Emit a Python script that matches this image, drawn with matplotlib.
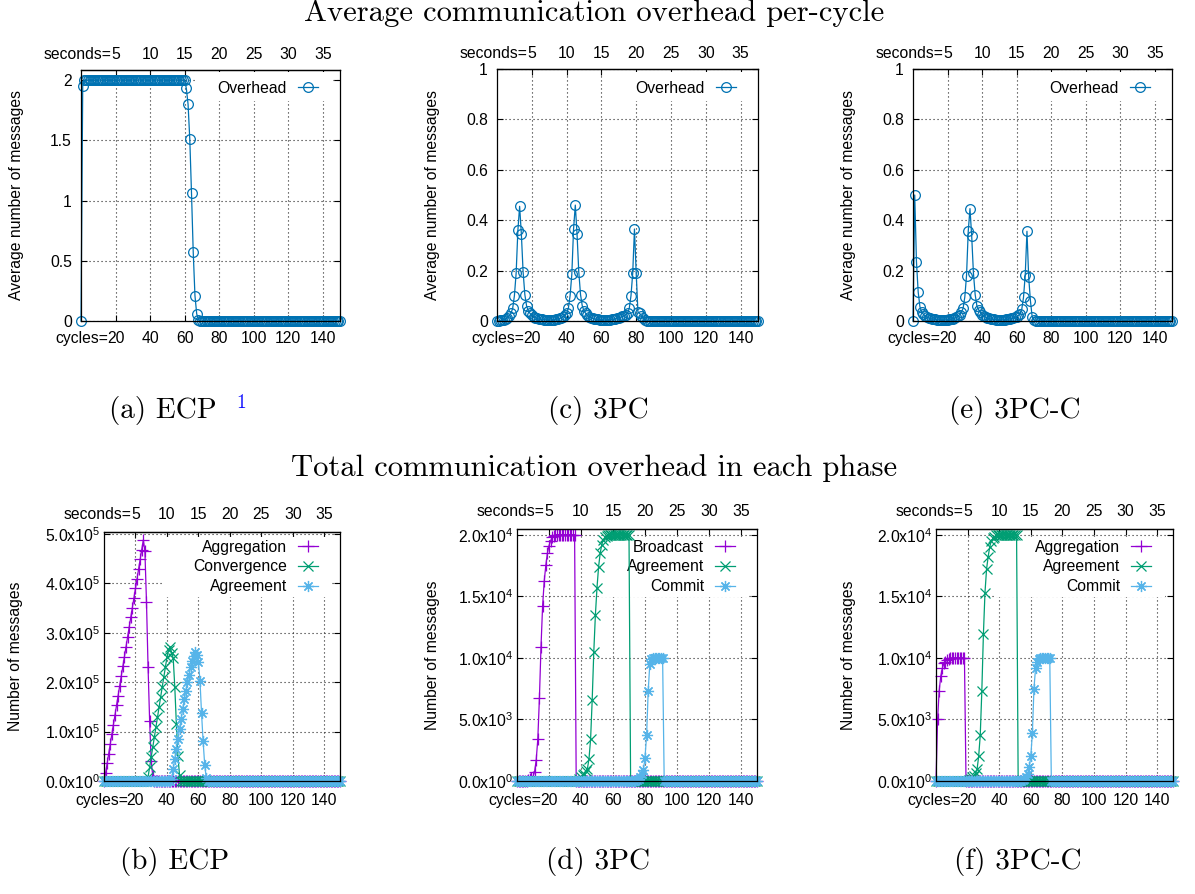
import numpy as np
import matplotlib
matplotlib.use("Agg")
import matplotlib.pyplot as plt
from matplotlib.patches import Rectangle

W, H, DPI = 1195, 894, 100

plt.rcParams['font.family'] = ['Liberation Sans', 'DejaVu Sans']
plt.rcParams['mathtext.fontset'] = 'custom'
plt.rcParams['mathtext.rm'] = 'Liberation Sans'
plt.rcParams['mathtext.it'] = 'Liberation Sans:italic'
plt.rcParams['mathtext.bf'] = 'Liberation Sans:bold'

# ---------------- data ----------------
cycles = np.arange(0, 151)
cycle_ticks = [20, 40, 60, 80, 100, 120, 140]
cycle_labels = ["20", "40", "60", "80", "100", "120", "140"]
second_ticks = [5, 10, 15, 20, 25, 30, 35]
second_labels = ["5", "10", "15", "20", "25", "30", "35"]

# average overhead per cycle (messages per node)
ecp_overhead = ([0.0, 1.95] + [2.0] * 59 +
                [1.93, 1.8, 1.51, 1.06, 0.57, 0.21, 0.06, 0.01] + [0.0] * 82)
tpc_overhead = ([0.0, 0.0, 0.002, 0.003, 0.005, 0.008, 0.012, 0.02, 0.03] +
                [0.05, 0.1, 0.19, 0.36, 0.455, 0.345, 0.195, 0.105, 0.06, 0.04] +
                [0.03, 0.022, 0.017, 0.013, 0.01, 0.008, 0.007, 0.006, 0.005, 0.005, 0.004,
                 0.004, 0.004, 0.005, 0.005, 0.006, 0.008, 0.01, 0.013, 0.017, 0.022, 0.03] +
                [0.05, 0.1, 0.185, 0.365, 0.46, 0.345, 0.195, 0.105, 0.06, 0.04] +
                [0.03, 0.022, 0.017, 0.013, 0.01, 0.008, 0.007, 0.006, 0.005, 0.005, 0.004, 0.004,
                 0.004, 0.005, 0.005, 0.006, 0.007, 0.009, 0.011, 0.013, 0.015, 0.018, 0.021, 0.025] +
                [0.03, 0.05, 0.1, 0.19, 0.365, 0.19, 0.035, 0.03, 0.02, 0.01, 0.005] +
                [0.0] * 65)
tpcc_overhead = ([0.0, 0.5, 0.236, 0.115, 0.057, 0.035, 0.027, 0.02, 0.015] +
                 [0.012, 0.01, 0.008, 0.007, 0.006, 0.005, 0.005, 0.004, 0.004, 0.004,
                  0.005, 0.005, 0.006, 0.007, 0.009, 0.011, 0.014, 0.018, 0.025, 0.035] +
                 [0.05, 0.095, 0.18, 0.357, 0.446, 0.336, 0.19, 0.105, 0.06, 0.045, 0.035, 0.025, 0.02] +
                 [0.015, 0.012, 0.01, 0.008, 0.007, 0.006, 0.005, 0.005, 0.004, 0.004,
                  0.005, 0.005, 0.006, 0.007, 0.008, 0.01, 0.012, 0.014, 0.017, 0.022] +
                 [0.028, 0.047, 0.094, 0.183, 0.356, 0.174, 0.081, 0.017, 0.005] +
                 [0.0] * 80)

# total messages per phase
ecp_aggregation = ([0] + [16e3, 36e3, 55e3, 75e3, 95e3, 114e3, 134e3, 154e3, 173e3, 193e3, 213e3,
                          232e3, 252e3, 272e3, 291e3, 311e3, 331e3, 350e3, 370e3, 390e3, 409e3,
                          429e3, 449e3, 468e3, 488e3] +
                   [465e3, 363e3, 231e3, 122e3, 40e3, 10e3] + [0] * 119)
ecp_convergence = ([0] * 28 + [8e3, 28e3, 48e3, 68e3, 89e3, 109e3, 129e3, 150e3, 170e3, 190e3,
                               210e3, 230e3, 250e3, 265e3, 272e3, 260e3, 248e3, 190e3, 115e3,
                               50e3, 12e3] + [0] * 102)
ecp_agreement = ([0] * 43 + [5e3, 25e3, 45e3, 65e3, 85e3, 105e3, 125e3, 145e3, 165e3, 183e3, 200e3,
                             215e3, 230e3, 243e3, 253e3, 262e3, 255e3, 240e3, 203e3, 137e3, 80e3,
                             33e3, 6e3] + [0] * 85)

tpc_broadcast = ([0] * 7 + [80, 150, 250, 350, 760, 1700, 3400, 6700, 10900, 14200, 16200, 17500,
                            18500, 19100, 19500, 19800, 19900] + [20000] * 13 + [0] * 114)
tpc_agreement = ([0] * 39 + [150, 300, 450, 600, 800, 1000, 1800, 3400, 6600, 10500, 13500, 15700,
                             17400, 18500, 19200, 19600, 19800, 19900] + [20000] * 14 + [0] * 80)
tpc_commit = ([0] * 75 + [100, 200, 350, 600, 900, 1900, 3700, 7300, 9500, 9900] +
              [10000] * 7 + [0] * 59)

tpcc_aggregation = ([0, 5000, 7300, 8500, 9150, 9550, 9700, 9800, 9900, 9950] +
                    [10000] * 9 + [0] * 132)
tpcc_agreement = ([0] * 21 + [100, 200, 300, 400, 650, 950, 2000, 3700, 7300, 11900, 15300, 17200,
                              18200, 19000, 19500, 19700, 19850, 19950] + [20000] * 13 + [0] * 99)
tpcc_commit = ([0] * 55 + [100, 200, 300, 600, 1150, 2000, 3900, 7500, 9150, 9700, 9900] +
               [10000] * 7 + [0] * 78)

for s in [ecp_overhead, tpc_overhead, tpcc_overhead, ecp_aggregation, ecp_convergence,
          ecp_agreement, tpc_broadcast, tpc_agreement, tpc_commit, tpcc_aggregation,
          tpcc_agreement, tpcc_commit]:
    assert len(s) == len(cycles), len(s)

top_yticks = [0, 0.2, 0.4, 0.6, 0.8, 1.0]
top_ylabels = ["0", "0.2", "0.4", "0.6", "0.8", "1"]
ecp_yticks = [0, 0.5, 1.0, 1.5, 2.0]
ecp_ylabels = ["0", "0.5", "1", "1.5", "2"]
ecp_phase_yticks = [0, 1e5, 2e5, 3e5, 4e5, 5e5]
ecp_phase_ylabels = [r"0.0x10$^{0}$", r"1.0x10$^{5}$", r"2.0x10$^{5}$", r"3.0x10$^{5}$",
                     r"4.0x10$^{5}$", r"5.0x10$^{5}$"]
pc_phase_yticks = [0, 5e3, 1e4, 1.5e4, 2e4]
pc_phase_ylabels = [r"0.0x10$^{0}$", r"5.0x10$^{3}$", r"1.0x10$^{4}$", r"1.5x10$^{4}$",
                    r"2.0x10$^{4}$"]

# ---------------- style ----------------
C_BLUE = '#0072b2'
C_PURPLE = '#9400d3'
C_GREEN = '#009e73'
C_LBLUE = '#56b4e9'
FS = 11.3
SERIF = 'cmr10'

fig = plt.figure(figsize=(W / DPI, H / DPI), dpi=DPI)


def add_axes_px(l, t, r, b):
    return fig.add_axes([l / W, 1 - b / H, (r - l) / W, (b - t) / H])


def setup(ax, ylim, yticks, ylabels, ypad, bpad, tpad, cyc_off, sec_off):
    ax.set_xlim(0, 150)
    ax.set_ylim(*ylim)
    ax.set_xticks(cycle_ticks)
    ax.set_xticklabels(cycle_labels)
    ax.set_yticks(yticks)
    ax.set_yticklabels(ylabels)
    ax.tick_params(direction='in', length=4.5, width=0.8, right=True, top=False, labelsize=FS)
    ax.tick_params(axis='x', pad=bpad)
    ax.tick_params(axis='y', pad=ypad)
    ax.grid(True, color='#222222', linestyle=(0, (1, 2.6)), linewidth=0.8)
    ax.set_axisbelow(True)
    for sp in ax.spines.values():
        sp.set_linewidth(0.9)
    sec = ax.secondary_xaxis('top', functions=(lambda c: np.asarray(c) / 4.0,
                                                lambda s: np.asarray(s) * 4.0))
    sec.set_xticks(second_ticks)
    sec.set_xticklabels(second_labels)
    sec.tick_params(direction='in', length=4.5, width=0.8, labelsize=FS, pad=tpad)
    sec.spines['top'].set_linewidth(0.9)
    ax.annotate("cycles=", xy=(cycle_ticks[0], 0), xycoords=('data', 'axes fraction'),
                xytext=(-cyc_off, -bpad), textcoords='offset points', ha='right', va='top',
                fontsize=FS, annotation_clip=False)
    ax.annotate("seconds=", xy=(cycle_ticks[0], 1), xycoords=('data', 'axes fraction'),
                xytext=(-sec_off, tpad), textcoords='offset points', ha='right', va='bottom',
                fontsize=FS, annotation_clip=False)


def key(ax, rect, handles, labels, anchor_top_px, box_top_px, box_bottom_px, box_w_px):
    l, t, r, b = rect
    wx, hy = r - l, b - t
    # opaque key area (gnuplot "key opaque")
    ax.add_patch(Rectangle(((r - 8 - box_w_px - l) / wx, (b - box_bottom_px) / hy),
                           box_w_px / wx, (box_bottom_px - box_top_px) / hy,
                           transform=ax.transAxes, facecolor='white', edgecolor='none',
                           zorder=1.4))
    leg = ax.legend(handles, labels, loc='upper right',
                    bbox_to_anchor=((r - 17 - l) / wx, (b - anchor_top_px) / hy),
                    markerfirst=False, frameon=False, fontsize=FS, handlelength=1.3,
                    handletextpad=0.7, labelspacing=0.3, borderpad=0.3, borderaxespad=0,
                    numpoints=1)
    leg.set_zorder(1.5)
    return leg


# ---------- top row ----------
top_panels = [
    ((81, 70, 340, 321), ecp_overhead, (0, 2.083), ecp_yticks, ecp_ylabels, 17),
    ((497, 69, 758, 321), tpc_overhead, (0, 1.0), top_yticks, top_ylabels, 432),
    ((913, 69, 1172, 321), tpcc_overhead, (0, 1.0), top_yticks, top_ylabels, 848),
]
for rect, series, ylim, yt, yl, ylab_x in top_panels:
    ax = add_axes_px(*rect)
    setup(ax, ylim, yt, yl, ypad=6.5, bpad=7.5, tpad=6.0, cyc_off=5.5, sec_off=2.8)
    ln, = ax.plot(cycles, series, color=C_BLUE, lw=0.9, marker='o', ms=7.0, mfc='none',
                  mew=0.9, clip_on=False, zorder=2)
    key(ax, rect, [ln], ["Overhead"], 76, 72, 101, 137)
    l, t, r, b = rect
    fig.text(ylab_x / W, 1 - ((t + b) / 2) / H, "Average number of messages", rotation=90,
             ha='center', va='center', fontsize=FS)

# ---------- bottom row ----------
bottom_panels = [
    ((104, 532, 340, 781), [ecp_aggregation, ecp_convergence, ecp_agreement],
     ["Aggregation", "Convergence", "Agreement"], (0, 5.04e5), ecp_phase_yticks,
     ecp_phase_ylabels, 16, 170),
    ((517, 529, 757, 781), [tpc_broadcast, tpc_agreement, tpc_commit],
     ["Broadcast", "Agreement", "Commit"], (0, 2.046e4), pc_phase_yticks, pc_phase_ylabels, 432,
     148),
    ((936, 529, 1173, 781), [tpcc_aggregation, tpcc_agreement, tpcc_commit],
     ["Aggregation", "Agreement", "Commit"], (0, 2.046e4), pc_phase_yticks, pc_phase_ylabels, 848,
     170),
]
styles = [(C_PURPLE, '+', 8.5), (C_GREEN, 'x', 7.0), (C_LBLUE, (8, 2, 0), 8.0)]
for rect, series_list, names, ylim, yt, yl, ylab_x, box_w in bottom_panels:
    ax = add_axes_px(*rect)
    setup(ax, ylim, yt, yl, ypad=2.5, bpad=8.5, tpad=7.0, cyc_off=5.5, sec_off=3.0)
    handles = []
    for series, (col, mk, ms) in zip(series_list, styles):
        ln, = ax.plot(cycles, series, color=col, lw=0.9, marker=mk, ms=ms, mew=0.9,
                      clip_on=False, zorder=2)
        handles.append(ln)
    key(ax, rect, handles, names, 535, 537, 597, box_w)
    l, t, r, b = rect
    fig.text(ylab_x / W, 1 - ((t + b) / 2) / H, "Number of messages", rotation=90,
             ha='center', va='center', fontsize=FS)

# ---------- titles & captions ----------
TS = 22.0
CS = 21.0
fig.text(594 / W, 1 - 21 / H, "Average communication overhead per-cycle", family=SERIF,
         fontsize=TS, ha='center', va='baseline')
fig.text(594 / W, 1 - 476 / H, "Total communication overhead in each phase", family=SERIF,
         fontsize=TS, ha='center', va='baseline')
captions = [("(a) ECP", 162.5, 418), ("(c) 3PC", 598, 418), ("(e) 3PC-C", 1015, 418),
            ("(b) ECP", 175, 868.5), ("(d) 3PC", 598, 868.5), ("(f) 3PC-C", 1018, 868.5)]
for txt, cx, by in captions:
    fig.text(cx / W, 1 - by / H, txt, family=SERIF, fontsize=CS, ha='center', va='baseline')
fig.text(241 / W, 1 - 408 / H, "1", family=SERIF, fontsize=14, color='#1010ff',
         ha='center', va='baseline')

fig.savefig("out.png", dpi=DPI)
